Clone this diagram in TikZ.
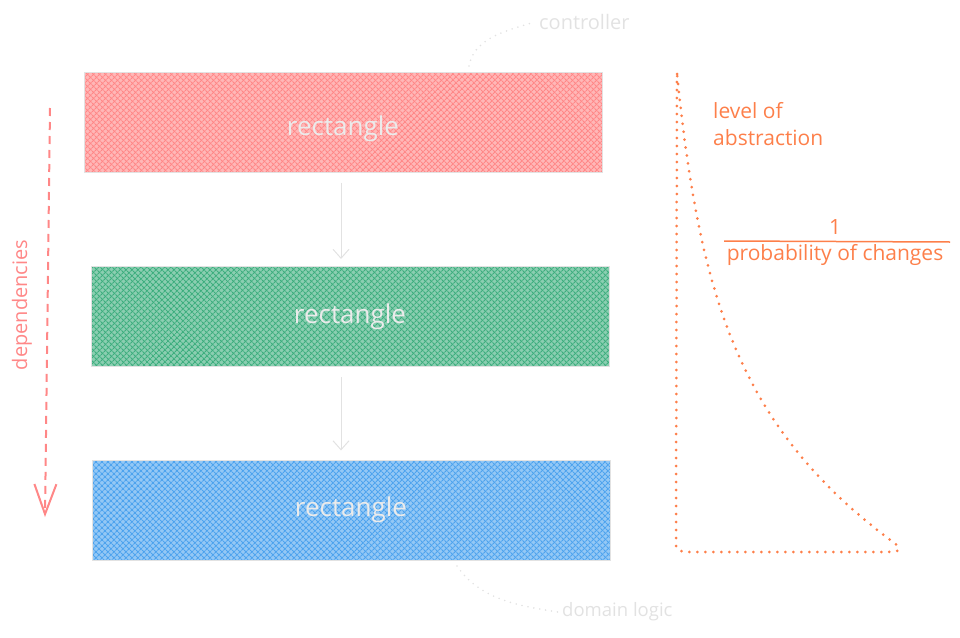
\documentclass[tikz,border=0pt]{standalone}
\usepackage{fontspec}
\setmainfont{Open Sans}
\usetikzlibrary{patterns.meta,arrows.meta,positioning}

\definecolor{ctrlred}{HTML}{FF8787}
\definecolor{svcgreen}{HTML}{3DAE7E}
\definecolor{domblue}{HTML}{4DA3EE}
\definecolor{absorange}{HTML}{FD7F4A}
\definecolor{faint}{HTML}{E2E2E2}

\newcommand{\hatchfill}[1]{
	\fill[#1!60] (path picture bounding box.south west) rectangle (path picture bounding box.north east);
	\fill[pattern={Lines[angle=45,distance=4pt,line width=1.2pt]}, pattern color=#1] (path picture bounding box.south west) rectangle (path picture bounding box.north east);
	\fill[pattern={Lines[angle=-45,distance=4pt,line width=1.2pt]}, pattern color=#1] (path picture bounding box.south west) rectangle (path picture bounding box.north east);
}

\tikzset{
	layer/.style={draw=faint, line width=1pt, minimum width=518pt, minimum height=100pt, inner sep=0pt,
		text=white!92!black, font=\fontsize{26}{30}\selectfont, path picture={\hatchfill{#1}}},
	flow/.style={draw=faint, line width=1pt, -{Straight Barb[length=9pt,width=16pt]}},
	note/.style={text=faint, font=\fontsize{20}{24}\selectfont},
	hint/.style={draw=faint, line width=1.8pt, line cap=round, dash pattern=on 0pt off 6pt},
	orangetext/.style={text=absorange, font=\fontsize{21}{27}\selectfont},
	trend/.style={draw=absorange, line width=3pt, line cap=round, dash pattern=on 0pt off 8pt}
}

\begin{document}
\begin{tikzpicture}[x=1pt,y=-1pt]
\useasboundingbox (0,0) rectangle (960,637);

\pgfmathsetmacro{\flowx}{341}

\node[layer=ctrlred, text height=34pt] (ctrl) at (343,122) {rectangle};
\node[layer=svcgreen] (svc) at (350,316.5) {rectangle};
\node[layer=domblue] (dom) at (351,510) {rectangle};

\draw[flow, shorten <=10pt, shorten >=7pt] (ctrl.south -| \flowx,0) -- (svc.north -| \flowx,0);
\draw[flow, shorten <=10pt, shorten >=9pt] (svc.south -| \flowx,0) -- (dom.north -| \flowx,0);

\coordinate (depstart) at (50,108);
\coordinate (depend) at (45,517);
\draw[draw=ctrlred, line width=2pt, dash pattern=on 8pt off 6pt,
	-{Straight Barb[length=30pt,width=22pt,line width=2pt]}] (depstart) -- (depend);
\node[rotate=90, text=ctrlred, font=\fontsize{20}{24}\selectfont] (deplabel) at (22,305) {dependencies};

\node[note, anchor=west, inner sep=0pt] (ctrlnote) at (539,22) {controller};
\draw[hint] (469,66) .. controls (474,40) and (500,32) .. ([xshift=-4pt]ctrlnote.west);
\node[note, anchor=west, inner sep=0pt, font=\fontsize{18.5}{22}\selectfont] (domnote) at (562,612) {domain logic};
\draw[hint] (457,566) .. controls (480,600) and (520,606) .. ([xshift=-4pt]domnote.west);

\coordinate (peak) at (677,74);
\coordinate (tail) at (897,545);
\draw[trend] (peak) -- (676,540) .. controls (676,551) .. (690,552) -- (888,552)
	.. controls (900,551) .. (tail) .. controls (740,430) and (700,300) .. (peak);

\node[orangetext, anchor=north west, align=left, inner sep=0pt] (abstr) at (713,102) {level of\\abstraction};
\node[orangetext] (numer) at (835,227) {1};
\node[orangetext] (denom) at (835,255) {probability of changes};
\coordinate (barl) at (724,241);
\coordinate (barr) at (950,242);
\draw[absorange, line width=1.5pt] (barl) -- (barr);
\end{tikzpicture}
\end{document}
